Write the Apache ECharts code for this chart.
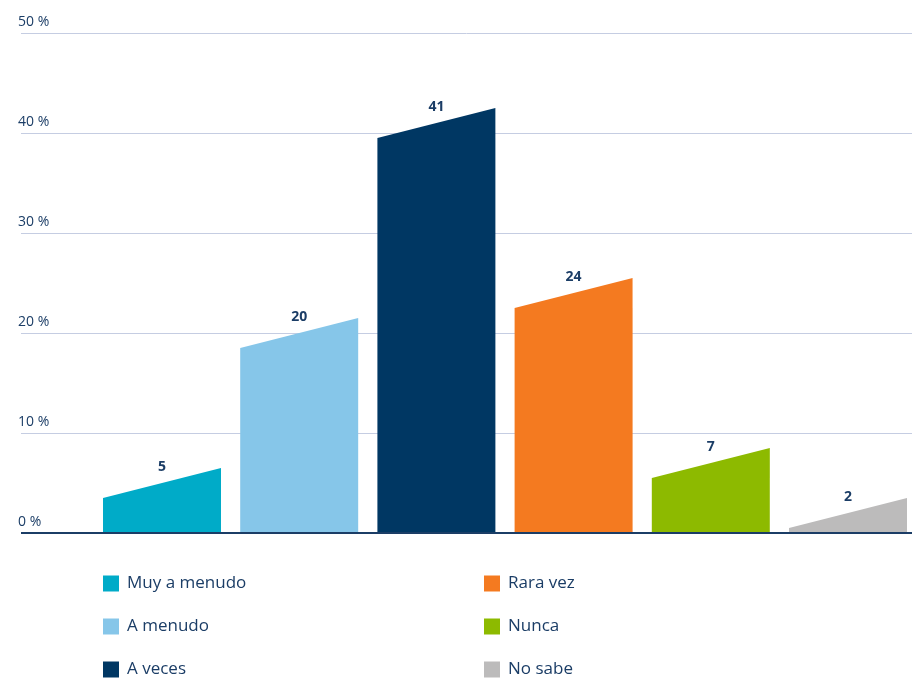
<!DOCTYPE html>
<html>
<head>
<meta charset="utf-8">
<script src="https://cdn.jsdelivr.net/npm/echarts@6/dist/echarts.min.js"></script>
<style>
  html, body { margin: 0; padding: 0; background: #fff; }
  #chart { width: 912px; height: 679px; }
</style>
</head>
<body>
<div id="chart"></div>
<script>
  var categories = ['Muy a menudo', 'A menudo', 'A veces', 'Rara vez', 'Nunca', 'No sabe']
  var values = [5, 20, 41, 24, 7, 2]
  var colors = ['#00abc8', '#86c6e9', '#003763', '#f47a20', '#8dba00', '#bcbbbb']
  var yTicks = [0, 10, 20, 30, 40, 50]

  var textColor = '#1b3d66'
  var tilt = 1.5

  var chart = echarts.init(document.getElementById('chart'))

  var renderBar = function (params, api) {
    var x = api.value(0)
    var v = api.value(1)
    var half = 0.43
    var p0 = api.coord([x - half, 0])
    var p1 = api.coord([x + half, 0])
    var p2 = api.coord([x + half, v + tilt])
    var p3 = api.coord([x - half, Math.max(v - tilt, 0)])
    var top = api.coord([x, v])
    return {
      type: 'group',
      children: [
        {
          type: 'polygon',
          shape: { points: [p0, p1, p2, p3] },
          style: { fill: api.visual('color') }
        },
        {
          type: 'text',
          style: {
            text: String(v),
            x: top[0],
            y: top[1] - 16,
            align: 'center',
            verticalAlign: 'middle',
            font: 'bold 14px "Open Sans"',
            fill: textColor
          }
        }
      ]
    }
  }

  var series = categories.map(function (name, i) {
    return {
      name: name,
      type: 'custom',
      renderItem: renderBar,
      itemStyle: { color: colors[i] },
      data: [[i, values[i]]],
      z: 3
    }
  })

  var legendText = { color: textColor, fontFamily: 'Open Sans', fontSize: 17, lineHeight: 16, padding: [0, 0, 0, 3] }

  chart.setOption({
    animation: false,
    color: colors,
    grid: { left: 21, right: 0, top: 33, bottom: 146 },
    xAxis: {
      type: 'value',
      min: -1.0277,
      max: 5.4665,
      show: false
    },
    yAxis: {
      type: 'value',
      min: 0,
      max: 50,
      interval: 10,
      axisLine: { show: false },
      axisTick: { show: false },
      axisLabel: {
        align: 'left',
        verticalAlign: 'bottom',
        margin: 3,
        padding: [0, 0, 4, 0],
        color: textColor,
        fontFamily: 'Open Sans',
        fontSize: 14,
        formatter: function (val) {
          return yTicks.indexOf(val) >= 0 ? val + ' %' : ''
        }
      },
      splitLine: { lineStyle: { color: '#c5cde2', width: 1 } }
    },
    legend: [
      {
        data: categories.slice(0, 3),
        orient: 'vertical',
        left: 103,
        top: 575,
        height: 110,
        padding: 0,
        icon: 'rect',
        itemWidth: 16,
        itemHeight: 16,
        itemGap: 26,
        selectedMode: false,
        textStyle: legendText
      },
      {
        data: categories.slice(3),
        orient: 'vertical',
        left: 484,
        top: 575,
        height: 110,
        padding: 0,
        icon: 'rect',
        itemWidth: 16,
        itemHeight: 16,
        itemGap: 26,
        selectedMode: false,
        textStyle: legendText
      }
    ],
    series: series.concat([
      {
        type: 'line',
        data: [],
        markLine: {
          silent: true,
          symbol: 'none',
          label: { show: false },
          lineStyle: { color: '#1b3d66', width: 2, type: 'solid' },
          data: [{ yAxis: 0 }]
        },
        z: 4
      }
    ])
  })
</script>
</body>
</html>
